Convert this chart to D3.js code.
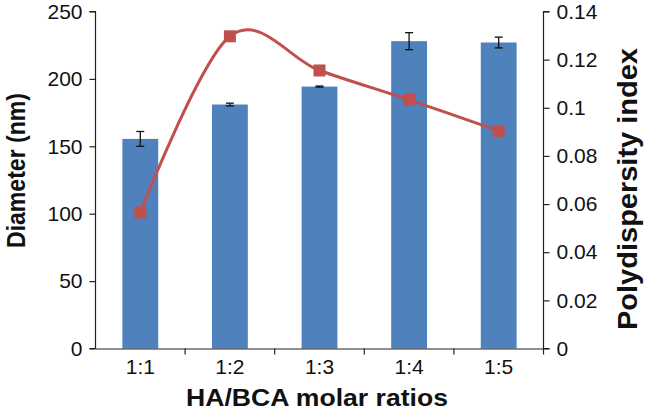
<!DOCTYPE html>
<html><head><meta charset="utf-8">
<script src="https://cdn.jsdelivr.net/npm/d3@7"></script>
<style>body{margin:0;background:#fff}svg text{font-family:"Liberation Sans",Arial,sans-serif}</style>
</head><body><svg id="c" width="646" height="411"></svg>
<script>
const categories = ["1:1","1:2","1:3","1:4","1:5"];
const diameter = [155.5, 181, 194.3, 228, 227];
const diameterErr = [5.5, 1, 0.4, 6.3, 4];
const pdi = [0.0565, 0.1297, 0.1155, 0.1033, 0.0904];
const leftTicks = [0,50,100,150,200,250];
const rightTicks = [0,0.02,0.04,0.06,0.08,0.1,0.12,0.14];

const svg = d3.select("#c");
const L = 95.5, R = 543.5, T = 11.5, B = 348.5;
const x = d3.scaleBand().domain(categories).range([L, R]).paddingInner(0.6).paddingOuter(0.3);
const xb = d3.scaleBand().domain(categories).range([L, R]);
const yL = d3.scaleLinear().domain([0,250]).range([B, T]);
const yR = d3.scaleLinear().domain([0,0.14]).range([B, T]);
const axisCol = "#222";

// bars
svg.selectAll("rect.bar").data(categories).join("rect")
  .attr("x", d => x(d)).attr("width", x.bandwidth())
  .attr("y", (d,i) => yL(diameter[i])).attr("height", (d,i) => yL(0) - yL(diameter[i]))
  .attr("fill", "#4F81BD");

// error bars
const eg = svg.append("g").attr("stroke", "#111").attr("stroke-width", 1.3);
categories.forEach((c,i) => {
  const cx = x(c) + x.bandwidth()/2;
  const y1 = yL(diameter[i]+diameterErr[i]), y2 = yL(diameter[i]-diameterErr[i]);
  eg.append("line").attr("x1",cx).attr("x2",cx).attr("y1",y1).attr("y2",y2);
  eg.append("line").attr("x1",cx-4).attr("x2",cx+4).attr("y1",y1).attr("y2",y1);
  eg.append("line").attr("x1",cx-4).attr("x2",cx+4).attr("y1",y2).attr("y2",y2);
});

// axes
const fs = "21px";
const gl = svg.append("g").attr("transform", `translate(${L},0)`)
  .call(d3.axisLeft(yL).tickValues(leftTicks).tickSize(6).tickPadding(7));
const gr = svg.append("g").attr("transform", `translate(${R},0)`)
  .call(d3.axisRight(yR).tickValues(rightTicks).tickFormat(d => d===0?"0":String(+d.toFixed(2))).tickSize(6).tickPadding(7));
const gx = svg.append("g").attr("transform", `translate(0,${B})`)
  .call(d3.axisBottom(xb).tickSize(0).tickPadding(11));
[gl,gr,gx].forEach(g => {
  g.select(".domain").attr("stroke", axisCol).attr("stroke-width", 1.2);
  g.selectAll(".tick line").attr("stroke", axisCol).attr("stroke-width", 1.2);
  g.selectAll("text").attr("fill", "#111").style("font-size", fs).style("font-family", '"Liberation Sans",Arial,sans-serif');
});
gl.select(".domain").attr("d", `M-6,${T}H0V${B}H-6`);
gr.select(".domain").attr("d", `M6,${T}H0V${B}H6`);
// x boundary ticks
const xt = svg.append("g").attr("stroke", axisCol).attr("stroke-width", 1.2);
categories.slice(1).forEach(c => {
  xt.append("line").attr("x1", xb(c)).attr("x2", xb(c)).attr("y1", B).attr("y2", B+6);
});
xt.append("line").attr("x1", R).attr("x2", R).attr("y1", B).attr("y2", B+6);

// PDI line
const pts = categories.map((c,i) => [x(c)+x.bandwidth()/2, yR(pdi[i])]);
svg.append("path").attr("d", d3.line().curve(d3.curveCardinal.tension(0))(pts))
  .attr("fill","none").attr("stroke","#C0504D").attr("stroke-width",3);
svg.selectAll("rect.m").data(pts).join("rect")
  .attr("x", d => d[0]-6).attr("y", d => d[1]-6).attr("width",12).attr("height",12)
  .attr("fill","#C0504D");

// titles
svg.append("text").attr("transform","translate(25,170.5) rotate(-90)").attr("text-anchor","middle")
  .attr("textLength",155).attr("lengthAdjust","spacingAndGlyphs")
  .style("font-size","26px").style("font-weight","bold").attr("fill","#111").text("Diameter (nm)");
svg.append("text").attr("transform","translate(637,189) rotate(-90)").attr("text-anchor","middle")
  .attr("textLength",282).attr("lengthAdjust","spacingAndGlyphs")
  .style("font-size","27px").style("font-weight","bold").attr("fill","#111").text("Polydispersity index");
svg.append("text").attr("x", 317).attr("y", 406).attr("text-anchor","middle")
  .attr("textLength",262).attr("lengthAdjust","spacingAndGlyphs")
  .style("font-size","24px").style("font-weight","bold").attr("fill","#111").text("HA/BCA molar ratios");
</script></body></html>
